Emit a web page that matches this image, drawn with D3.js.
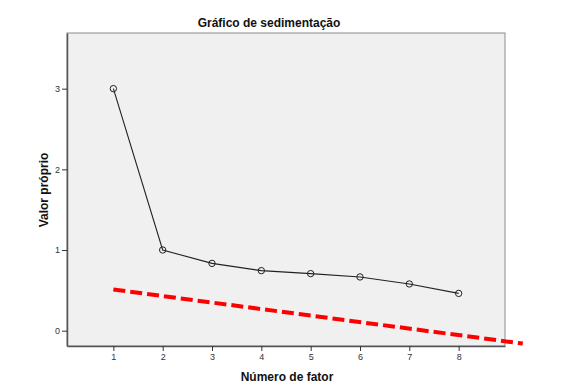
<!DOCTYPE html>
<html lang="en">
<head>
    <meta charset="UTF-8">
    <title>Gráfico de sedimentação</title>
    <script src="https://cdn.jsdelivr.net/npm/d3@7/dist/d3.min.js"></script>
    <style>
        body { margin: 0; background: #fff; }
        text { font-family: "Liberation Sans", Arial, sans-serif; }
    </style>
</head>
<body>
<svg width="572" height="391"></svg>
<script>
    // dados
    var fatores = [1, 2, 3, 4, 5, 6, 7, 8];
    var autovalores = [3.0, 1.0, 0.834, 0.744, 0.707, 0.666, 0.579, 0.462];
    var xTicks = [1, 2, 3, 4, 5, 6, 7, 8];
    var yTicks = [0, 1, 2, 3];
    var linhaX = [1, 9.3];
    var linhaY = [0.51, -0.16];

    var svg = d3.select("svg");
    var marge = {top: 33, left: 67, right: 505, bottom: 346};

    var x = d3.scaleLinear().domain([0.06, 8.94]).range([marge.left, marge.right]);
    var y = d3.scaleLinear().domain([-0.19, 3.69]).range([marge.bottom, marge.top]);

    svg.append("rect")
        .attr("x", marge.left).attr("y", marge.top)
        .attr("width", marge.right - marge.left).attr("height", marge.bottom - marge.top)
        .attr("fill", "#f0f0f0").attr("stroke", "#8c8c8c").attr("stroke-width", 1);

    var xAxis = svg.append("g")
        .attr("transform", "translate(0," + marge.bottom + ")")
        .call(d3.axisBottom(x).tickValues(xTicks).tickSizeInner(5).tickSizeOuter(0).tickPadding(3).tickFormat(d3.format("d")));
    var yAxis = svg.append("g")
        .attr("transform", "translate(" + marge.left + ",0)")
        .call(d3.axisLeft(y).tickValues(yTicks).tickSizeInner(5).tickSizeOuter(0).tickPadding(2).tickFormat(d3.format("d")));

    [xAxis, yAxis].forEach(function (a) {
        a.select(".domain").attr("stroke", "#555").attr("stroke-width", 1.5);
        a.selectAll(".tick line").attr("stroke", "#333");
        a.selectAll(".tick text").attr("fill", "#333").style("font-size", "9px");
    });

    var pontos = fatores.map(function (f, i) { return [f, autovalores[i]]; });

    svg.append("path")
        .datum(pontos)
        .attr("fill", "none").attr("stroke", "#222").attr("stroke-width", 1.1)
        .attr("d", d3.line().x(d => x(d[0])).y(d => y(d[1])));

    svg.append("g").selectAll("circle")
        .data(pontos).enter().append("circle")
        .attr("cx", d => x(d[0])).attr("cy", d => y(d[1])).attr("r", 3.2)
        .attr("fill", "none").attr("stroke", "#222").attr("stroke-width", 1);

    svg.append("path")
        .datum(linhaX.map(function (v, i) { return [v, linhaY[i]]; }))
        .attr("fill", "none").attr("stroke", "#ff0000").attr("stroke-width", 4)
        .attr("stroke-dasharray", "12,5")
        .attr("d", d3.line().x(d => x(d[0])).y(d => y(d[1])));

    svg.append("text").text("Gráfico de sedimentação")
        .attr("x", 269).attr("y", 27).attr("text-anchor", "middle")
        .style("font-size", "12px").style("font-weight", "bold").attr("fill", "#111");

    svg.append("text").text("Número de fator")
        .attr("x", 287).attr("y", 381).attr("text-anchor", "middle")
        .style("font-size", "12px").style("font-weight", "bold").attr("fill", "#111");

    svg.append("text").text("Valor próprio")
        .attr("transform", "translate(48,190) rotate(-90)").attr("text-anchor", "middle")
        .style("font-size", "12px").style("font-weight", "bold").attr("fill", "#111");
</script>
</body>
</html>
